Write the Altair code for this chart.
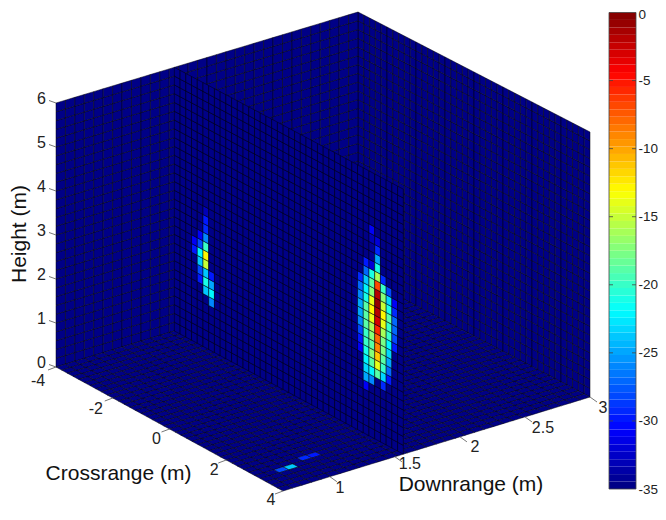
import altair as alt
import pandas as pd

# ---- data -----------------------------------------------------------------
D_MIN, D_MAX = 0.64, 3.0      # downrange (m)
C_MIN, C_MAX = -4.0, 4.0      # crossrange (m)
Z_MIN, Z_MAX = 0.0, 6.0       # height (m)
N_D, N_C, N_Z = 32, 40, 30    # grid cells
PLANE_D = 1.565               # downrange position of the middle slice
BASE_DB = -35

# slice cells: crossrange cell -> (top height cell, dB values going downwards)
plane_cols = {
    3: (11, [-31, -30]),
    4: (12, [-31, -28, -22, -24, -28, -30]),
    5: (15, [-33, -30, -29, -26, -20, -13, -15, -24, -21, -24]),
    6: (8, [-30, -25, -22, -26]),
    32: (17, [-29, -27, -26, -25, -25, -26, -28, -30, -31]),
    33: (19, [-30, -27, -24, -22, -21, -19, -19, -19, -20, -20, -21, -22, -23, -25, -31]),
    34: (23, [-31, -33, -34, -34, -32, -21, -19, -17, -14, -13, -14, -16, -17, -19, -17, -19, -22, -26]),
    35: (22, [-32, -29, -25, -21, -16, -7, -2, -1, -2, -3, -6, -8, -9, -11, -14, -19]),
    36: (18, [-29, -20, -17, -15, -13, -14, -16, -18, -18, -19, -20, -23, -29]),
    37: (17, [-28, -23, -21, -19, -20, -20, -22, -23, -25, -27, -30]),
    38: (16, [-31, -29, -27, -27, -28, -30]),
}
# floor cells: (downrange cell, crossrange cell, dB)
floor_hot = [(2, 35, -28), (3, 35, -24), (5, 34, -29), (6, 34, -30)]

z_ticks = [0, 1, 2, 3, 4, 5, 6]
c_ticks = [-4, -2, 0, 2, 4]
c_label_dx = [-18, -17, -13, -12, -12]
c_label_dy = [14, 11, 10, 10, 9]
d_ticks = [1, 1.5, 2, 2.5, 3]
d_tick_labels = ["1", "1.5", "2", "2.5", "3"]
d_label_dx = [10, 15, 15, 18, 13]
d_label_dy = [11, 7, 10, 11, 11]
cbar_ticks = [0, -5, -10, -15, -20, -25, -30, -35]

# ---- page layout: where the box corners land (page pixels) -------------------
OX, OY = 8, 8
CORNERS = {  # (downrange end, crossrange end)
    (0, 0): ((56, 367), (56, 103)),
    (0, 1): ((283, 491), (283, 226)),
    (1, 1): ((590, 397), (590, 132)),
    (1, 0): ((358, 275), (358, 12)),
}


def place(x, y):
    return [x - OX, y - OY]


def project(d, c, z):
    a = (d - D_MIN) / (D_MAX - D_MIN)
    b = (c - C_MIN) / (C_MAX - C_MIN)
    t = (z - Z_MIN) / (Z_MAX - Z_MIN)
    px = py = 0.0
    for (i, j), (lo, hi) in CORNERS.items():
        w = (a if i else 1 - a) * (b if j else 1 - b)
        px += w * (lo[0] + t * (hi[0] - lo[0]))
        py += w * (lo[1] + t * (hi[1] - lo[1]))
    return [px, py]


def jet(n=64):
    out = []
    for i in range(n):
        v = (i + 0.5) / n
        r = min(max(min(4 * v - 1.5, -4 * v + 4.5), 0), 1)
        g = min(max(min(4 * v - 0.5, -4 * v + 3.5), 0), 1)
        b = min(max(min(4 * v + 0.5, -4 * v + 2.5), 0), 1)
        out.append("#%02x%02x%02x" % (round(r * 255), round(g * 255), round(b * 255)))
    return out


def quad(pts, db):
    pts = [place(*p) for p in pts]
    ring = pts + [pts[0]]
    return {"type": "Feature", "properties": {"db": db},
            "geometry": {"type": "Polygon", "coordinates": [ring]}}


def line(a, b):
    return {"type": "Feature", "properties": {},
            "geometry": {"type": "LineString", "coordinates": [place(*a), place(*b)]}}


dd = (D_MAX - D_MIN) / N_D
dc = (C_MAX - C_MIN) / N_C
dz = (Z_MAX - Z_MIN) / N_Z

cells = []
# right wall (downrange = max)
for i in range(N_C):
    for k in range(N_Z):
        c0, z0 = C_MIN + i * dc, k * dz
        cells.append(quad([project(D_MAX, c0, z0), project(D_MAX, c0 + dc, z0),
                           project(D_MAX, c0 + dc, z0 + dz), project(D_MAX, c0, z0 + dz)], BASE_DB))
# left wall (crossrange = min)
for i in range(N_D):
    for k in range(N_Z):
        d0, z0 = D_MIN + i * dd, k * dz
        cells.append(quad([project(d0, C_MIN, z0), project(d0 + dd, C_MIN, z0),
                           project(d0 + dd, C_MIN, z0 + dz), project(d0, C_MIN, z0 + dz)], BASE_DB))
# floor
hot = {(a, b): v for a, b, v in floor_hot}
for i in range(N_D):
    for j in range(N_C):
        d0, c0 = D_MIN + i * dd, C_MIN + j * dc
        cells.append(quad([project(d0, c0, 0), project(d0 + dd, c0, 0),
                           project(d0 + dd, c0 + dc, 0), project(d0, c0 + dc, 0)],
                          hot.get((i, j), BASE_DB)))
# middle slice
plane = {}
for col, (top, vals) in plane_cols.items():
    for n, v in enumerate(vals):
        plane[(col, top - n)] = v
for j in range(N_C):
    for k in range(N_Z):
        c0, z0 = C_MIN + j * dc, k * dz
        cells.append(quad([project(PLANE_D, c0, z0), project(PLANE_D, c0 + dc, z0),
                           project(PLANE_D, c0 + dc, z0 + dz), project(PLANE_D, c0, z0 + dz)],
                          plane.get((j, k), BASE_DB)))

JET = jet(64)
color_scale = alt.Scale(type="quantize", domain=[-35, 0], range=JET)
PROJ = dict(type="identity", scale=1, translate=[0, 0])

cell_layer = alt.Chart(alt.Data(values=cells)).mark_geoshape(
    stroke="#000008", strokeWidth=0.5
).encode(color=alt.Color("properties.db:Q", scale=color_scale, legend=None)).project(**PROJ)

# colour bar
BX0, BX1, BY0, BY1 = 609, 636, 12.5, 489


def by(v):
    return BY0 + (0 - v) / 35 * (BY1 - BY0)


bands = []
for i in range(64):
    lo = -35 + i * 35 / 64
    hi = lo + 35 / 64
    bands.append(quad([[BX0, by(lo)], [BX1, by(lo)], [BX1, by(hi)], [BX0, by(hi)]], (lo + hi) / 2))
band_layer = alt.Chart(alt.Data(values=bands)).mark_geoshape(strokeWidth=0).encode(
    color=alt.Color("properties.db:Q", scale=color_scale, legend=None)).project(**PROJ)

bar_lines = [line([BX0, BY0], [BX1, BY0]), line([BX1, BY0], [BX1, BY1]),
             line([BX1, BY1], [BX0, BY1]), line([BX0, BY1], [BX0, BY0])]
for v in cbar_ticks[1:-1]:
    bar_lines.append(line([BX0, by(v)], [BX0 + 4, by(v)]))
    bar_lines.append(line([BX1 - 4, by(v)], [BX1, by(v)]))
bar_layer = alt.Chart(alt.Data(values=bar_lines)).mark_geoshape(
    filled=False, stroke="#444444", strokeWidth=0.8).project(**PROJ)

# axis ticks
tick_lines = []
for z in z_ticks:
    a = project(D_MIN, C_MIN, z)
    tick_lines.append(line(a, [a[0] - 7, a[1] - 2.5]))
for c in c_ticks:
    a = project(D_MIN, c, 0)
    tick_lines.append(line(a, [a[0] - 8, a[1] + 3]))
for d in d_ticks:
    a = project(d, C_MAX, 0)
    tick_lines.append(line(a, [a[0] + 7, a[1] + 5]))
tick_layer = alt.Chart(alt.Data(values=tick_lines)).mark_geoshape(
    filled=False, stroke="#777777", strokeWidth=1).project(**PROJ)


def text_frame(rows):
    out = []
    for t, x, y in rows:
        px, py = place(x, y)
        out.append({"t": t, "x": px, "y": py})
    return pd.DataFrame(out)


# text
labels = []
for z in z_ticks:
    a = project(D_MIN, C_MIN, z)
    labels.append((str(z), a[0] - 14.5, a[1] - 4.5))
for c, dx, dy in zip(c_ticks, c_label_dx, c_label_dy):
    a = project(D_MIN, c, 0)
    labels.append((str(c), a[0] + dx, a[1] + dy))
for d, t, dx, dy in zip(d_ticks, d_tick_labels, d_label_dx, d_label_dy):
    a = project(d, C_MAX, 0)
    labels.append((t, a[0] + dx, a[1] + dy))
FONT = "Liberation Sans"
lab_layer = alt.Chart(text_frame(labels)).mark_text(
    font=FONT, fontSize=16, color="#222222", align="center", baseline="middle"
).encode(longitude="x:Q", latitude="y:Q", text="t:N").project(**PROJ)

cb_rows = [(str(v), 638.5, max(by(v) + 0.5, 15)) for v in cbar_ticks]
cb_text = alt.Chart(text_frame(cb_rows)).mark_text(
    font=FONT, fontSize=13.5, color="#222222", align="left", baseline="middle"
).encode(longitude="x:Q", latitude="y:Q", text="t:N").project(**PROJ)

title_rows = [("Crossrange (m)", 118.5, 474), ("Downrange (m)", 471, 485)]
title_layer = alt.Chart(text_frame(title_rows)).mark_text(
    font=FONT, fontSize=21, color="#111111", align="center", baseline="middle"
).encode(longitude="x:Q", latitude="y:Q", text="t:N").project(**PROJ)
ht_layer = alt.Chart(text_frame([("Height (m)", 20, 234)])).mark_text(
    font=FONT, fontSize=21, color="#111111", align="center", baseline="middle", angle=270
).encode(longitude="x:Q", latitude="y:Q", text="t:N").project(**PROJ)

chart = alt.layer(cell_layer, band_layer, bar_layer, tick_layer, lab_layer, cb_text,
                  title_layer, ht_layer).properties(
    width=650, height=504, padding=0, autosize=alt.AutoSizeParams(type="none")
).resolve_scale(color="shared").configure_view(stroke=None)

chart.save("out.html", embed_options={"renderer": "svg", "actions": False})
